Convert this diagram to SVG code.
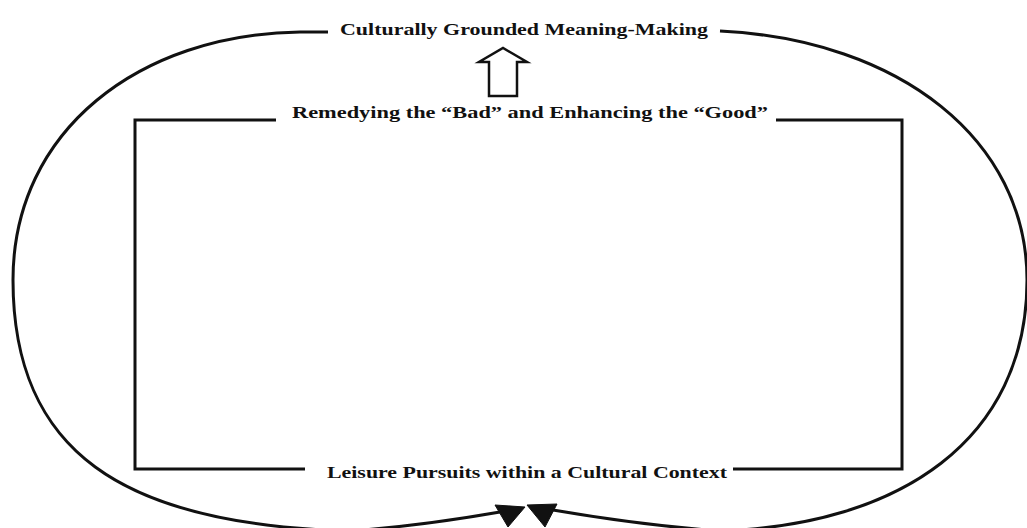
<svg xmlns="http://www.w3.org/2000/svg" width="1027" height="528" viewBox="0 0 1027 528">
<style>
.lbl{font-family:"Liberation Serif","Times New Roman",serif;font-weight:bold;fill:#111;}
.ln{fill:none;stroke:#111;stroke-width:3;stroke-linecap:butt;stroke-linejoin:miter;}
.head{fill:#111;stroke:#111;stroke-width:1;}
</style>
<rect width="1027" height="528" fill="#ffffff"/>
<g id="node-meaning-making">
<text class="lbl" x="340" y="35" font-size="17" textLength="368" lengthAdjust="spacingAndGlyphs">Culturally Grounded Meaning-Making</text>
</g>
<g id="node-remedying">
<path class="ln" d="M 276 120 L 135 120 L 135 469 L 305 469 M 733 469 L 902 469 L 902 120 L 776 120"/>
<text class="lbl" x="292" y="118" font-size="16" textLength="476" lengthAdjust="spacingAndGlyphs">Remedying the “Bad” and Enhancing the “Good”</text>
</g>
<g id="node-leisure">
<text class="lbl" x="327" y="478" font-size="16" textLength="400" lengthAdjust="spacingAndGlyphs">Leisure Pursuits within a Cultural Context</text>
</g>
<g id="connectors">
<polygon points="489,96 489,62 479,62 503,48 527,62 517,62 517,96" fill="#fff" stroke="#111" stroke-width="2.5" stroke-linejoin="miter"/>
<path class="ln" d="M 328 32 L 300 32 C 140 34, 13 130, 13 280 C 13 450, 120 525, 350 531 Q 420 526, 500 512"/>
<path class="ln" d="M 720 31 C 900 40, 1027 140, 1027 280 C 1027 440, 900 525, 720 531 Q 640 525, 553 510"/>
<polygon class="head" points="495,505 525,507 508,527"/>
<polygon class="head" points="527,505 557,504 545,527"/>
</g>
</svg>
